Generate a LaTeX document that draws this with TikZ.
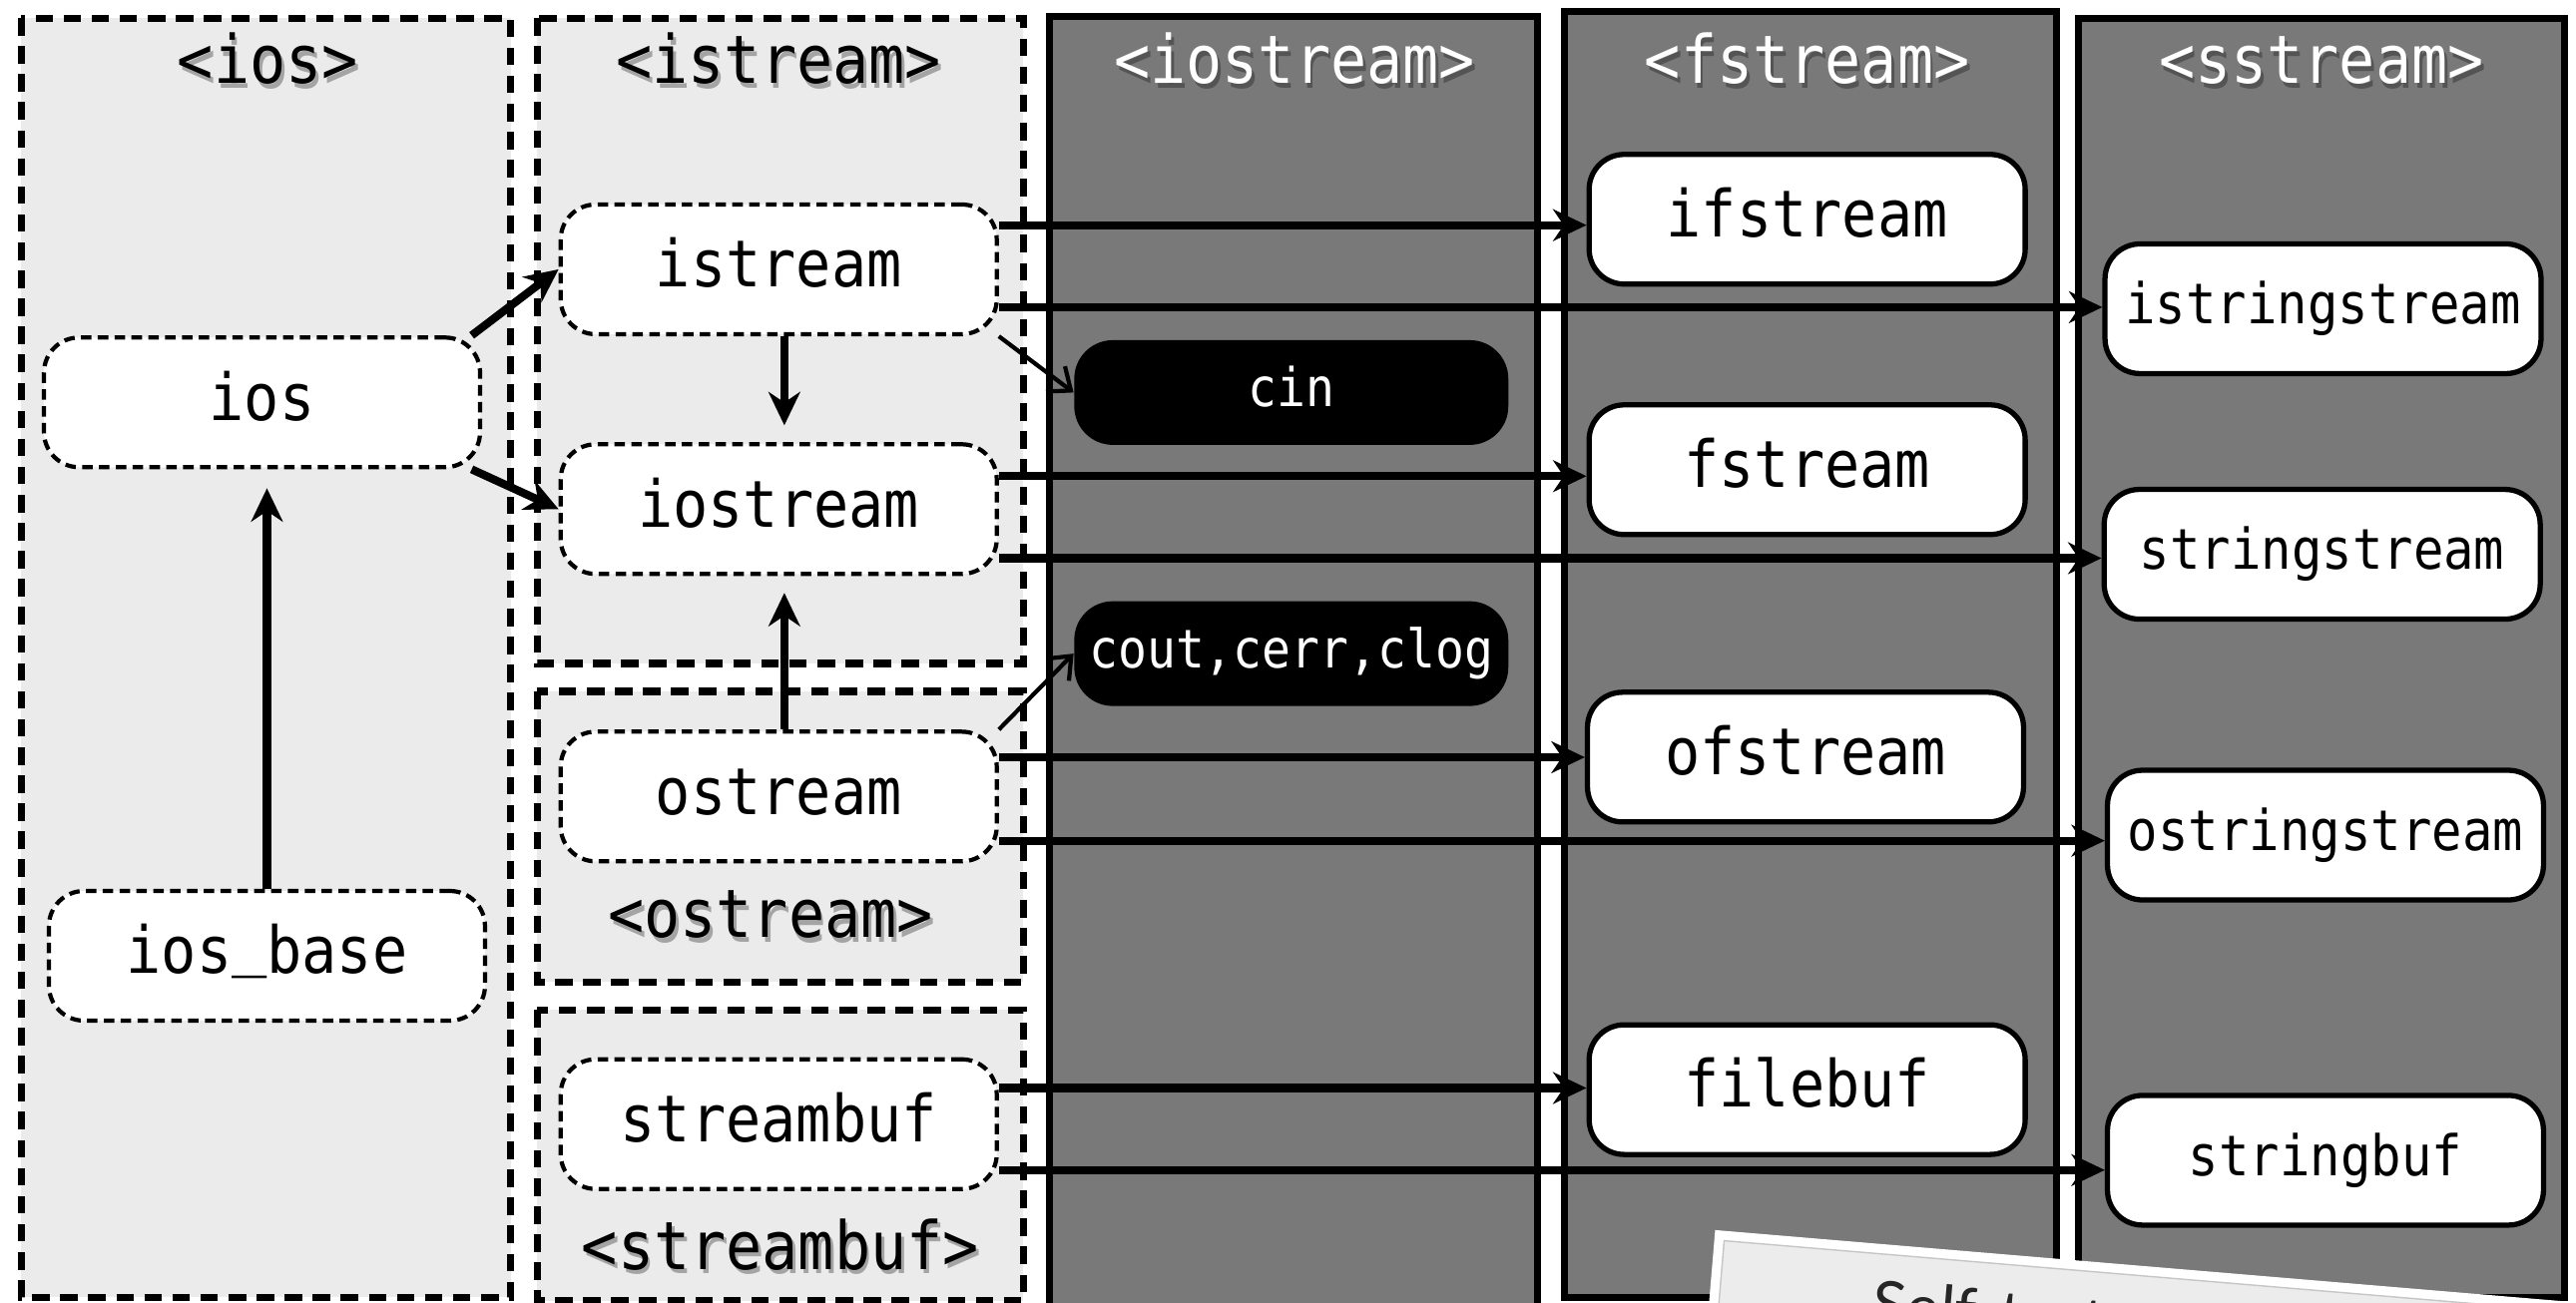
\documentclass[tikz,border=0pt]{standalone}
\usepackage{fontspec}
\usetikzlibrary{arrows.meta}

\newfontfamily\codefont[FakeStretch=0.9]{DejaVu Sans Mono}
\newfontfamily\notefont{Lato}

\definecolor{lightpanel}{RGB}{235,235,235}
\definecolor{darkpanel}{RGB}{121,121,121}
\definecolor{notegray}{RGB}{236,236,236}

\tikzset{
  headfont/.style={font=\codefont\fontsize{19}{21}\selectfont},
  bigfont/.style={font=\codefont\fontsize{18.5}{20}\selectfont, text height=10.1pt, text depth=0pt},
  smallfont/.style={font=\codefont\fontsize{16}{18}\selectfont, text height=8.75pt, text depth=0pt},
  objfont/.style={font=\codefont\fontsize{15.2}{17}\selectfont, text height=8.3pt, text depth=0pt},
  baseclass/.style={draw, fill=white, line width=1.2pt, dash pattern=on 3pt off 1.8pt,
    rounded corners=10pt, minimum width=4.37cm, minimum height=1.3cm, bigfont},
  fileclass/.style={draw, fill=white, line width=1.5pt, rounded corners=10pt,
    minimum width=4.37cm, minimum height=1.3cm},
  stdobj/.style={fill=black, text=white, rounded corners=11pt,
    minimum width=4.35cm, minimum height=1.05cm, objfont},
  dashpanel/.style={draw, fill=lightpanel, line width=2pt, dash pattern=on 5pt off 3pt},
  solidpanel/.style={draw, fill=darkpanel, line width=2pt},
  header/.style={anchor=base, headfont},
  hshadow/.style={header, text=black, opacity=0.3, xshift=0.8pt, yshift=-1.3pt},
  inherit/.style={line width=2.3pt, -{Stealth[length=9.5pt, width=9pt, inset=3pt]}},
  instance/.style={line width=1.2pt, -{Straight Barb[length=5.5pt, width=9pt]}}
}

\begin{document}
\begin{tikzpicture}[x=0.01646cm, y=-0.01646cm, every node/.style={inner sep=0pt}]
\useasboundingbox (0,0) rectangle (1568,793);
\clip (0,0) rectangle (1568,793);

% header panels
\draw[dashpanel] (13,11) rectangle (311,790);
\draw[dashpanel] (327,11) rectangle (623,404);
\draw[dashpanel] (327,421) rectangle (623,598);
\draw[dashpanel] (327,615) rectangle (623,792);
\draw[solidpanel] (639,10) rectangle (936,820);
\draw[solidpanel] (952,7) rectangle (1252,790);
\draw[solidpanel] (1265,11) rectangle (1561,790);

% header names
\node[hshadow] (iosHs) at (163,51) {<ios>};
\node[header] (iosH) at (163,51) {<ios>};
\node[hshadow] (istreamHs) at (474,51) {<istream>};
\node[header] (istreamH) at (474,51) {<istream>};
\node[hshadow] (iostreamHs) at (788,51) {<iostream>};
\node[header, text=white] (iostreamH) at (788,51) {<iostream>};
\node[hshadow] (fstreamHs) at (1100,51) {<fstream>};
\node[header, text=white] (fstreamH) at (1100,51) {<fstream>};
\node[hshadow] (sstreamHs) at (1413,51) {<sstream>};
\node[header, text=white] (sstreamH) at (1413,51) {<sstream>};
\node[hshadow] (ostreamHs) at (469,571) {<ostream>};
\node[header] (ostreamH) at (469,571) {<ostream>};
\node[hshadow] (streambufHs) at (475,773) {<streambuf>};
\node[header] (streambufH) at (475,773) {<streambuf>};

% base classes
\node[baseclass] (ios) at (159.5,245) {ios};
\node[baseclass] (iosbase) at (162.5,582) {ios\raisebox{0.16em}{\char"5F}base};
\node[baseclass] (istream) at (474,164) {istream};
\node[baseclass] (iostream) at (474,310) {iostream};
\node[baseclass] (ostream) at (474,485) {ostream};
\node[baseclass] (streambuf) at (474,684.5) {streambuf};

% standard objects
\node[stdobj] (cin) at (786,239) {cin};
\node[stdobj] (cout) at (786,398) {cout,cerr,clog};

% file and string classes
\node[fileclass, bigfont] (ifstream) at (1100,133.5) {ifstream};
\node[fileclass, bigfont] (fstream) at (1100,286) {fstream};
\node[fileclass, bigfont] (ofstream) at (1099,461) {ofstream};
\node[fileclass, bigfont] (filebuf) at (1100,663.5) {filebuf};
\node[fileclass, smallfont] (istringstream) at (1414,188) {istringstream};
\node[fileclass, smallfont] (stringstream) at (1413.5,337.5) {stringstream};
\node[fileclass, smallfont] (ostringstream) at (1415.5,508.5) {ostringstream};
\node[fileclass, smallfont] (stringbuf) at (1415.5,706.5) {stringbuf};

% inheritance
\draw[inherit, shorten >=5.4pt] (iosbase.north) -- (iosbase.north |- ios.south);
\draw[inherit] ([xshift=-3pt]ios.north east) -- (istream.west);
\draw[inherit] ([xshift=-3pt]ios.south east) -- (iostream.west);
\draw[inherit, shorten >=4.8pt] ([xshift=1.6pt]istream.south) -- ([xshift=1.6pt]iostream.north);
\draw[inherit, shorten >=4.8pt] ([xshift=1.6pt]ostream.north) -- ([xshift=1.6pt]iostream.south);

\foreach \src/\up/\dn/\a/\b in {istream/ifstream/istringstream/12.6/-10.8,
    iostream/fstream/stringstream/9.4/-14,
    ostream/ofstream/ostringstream/11.2/-12.6,
    streambuf/filebuf/stringbuf/10.3/-13.1} {
  \draw[inherit] ([yshift=\a pt]\src.east) -- ([yshift=\a pt]\src.east -| \up.west);
  \draw[inherit] ([yshift=\b pt]\src.east) -- ([yshift=\b pt]\src.east -| \dn.west);
}

% objects
\draw[instance] (istream.south east) -- (cin.west);
\draw[instance] (ostream.north east) -- (cout.west);

% note sheet lying on top
\begin{scope}[rotate around={-4.8:(1044,749)}, transform shape]
  \fill[white] (1044,749) rectangle (1800,1000);
  \draw[gray!45, fill=notegray, line width=0.4pt] (1050,755) rectangle (1795,995);
  \node[anchor=north west, font=\notefont\fontsize{18}{20}\selectfont, text=black!85] (selftest) at (1143,770) {Self-test};
\end{scope}
\end{tikzpicture}
\end{document}
